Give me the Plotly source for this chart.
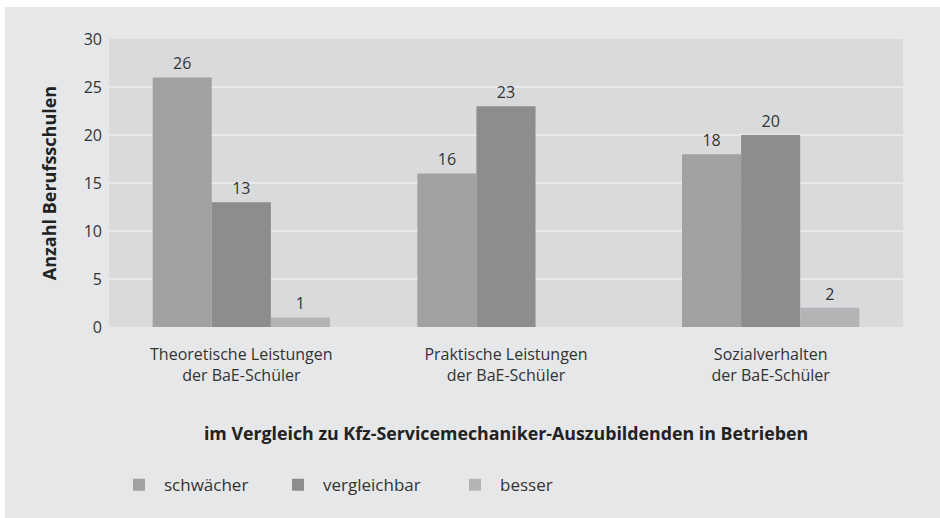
import plotly.graph_objects as go

categories = ["Theoretische Leistungen<br>der BaE-Schüler",
              "Praktische Leistungen<br>der BaE-Schüler",
              "Sozialverhalten<br>der BaE-Schüler"]
series_names = ["schwächer", "vergleichbar", "besser"]
schwaecher = [26, 16, 18]
vergleichbar = [13, 23, 20]
besser = [1, None, 2]
colors = ["#a0a1a3", "#8c8d8f", "#b3b4b6"]
y_ticks = [0, 5, 10, 15, 20, 25, 30]

FONT = "Open Sans"
TXT = "#333333"
W, H = 940, 518
ML, MR, MT, MB = 109, 37, 39, 191
PW, PH = W - ML - MR, H - MT - MB

legend_ids = ["legend", "legend2", "legend3"]
legend_x = [(114 - ML) / PW, (273 - ML) / PW, (450 - ML) / PW]

fig = go.Figure()
for name, vals, col, lid in zip(series_names, [schwaecher, vergleichbar, besser], colors, legend_ids):
    fig.add_trace(go.Bar(
        x=categories, y=vals, name=name, legend=lid,
        marker=dict(color=col, line=dict(width=0)),
        text=[("" if v is None else str(v)) for v in vals],
        textposition="outside", cliponaxis=False,
        textfont=dict(family=FONT, size=16, color=TXT),
    ))

def leg(x):
    return dict(orientation="h", x=x, xanchor="left", y=-0.487, yanchor="top",
                font=dict(family=FONT, size=17, color=TXT), bgcolor="rgba(0,0,0,0)",
                itemwidth=40)

fig.update_layout(
    width=W, height=H,
    barmode="group", bargap=0.33, bargroupgap=0,
    paper_bgcolor="#e6e7e9", plot_bgcolor="#d9dadc",
    margin=dict(l=ML, r=MR, t=MT, b=MB, autoexpand=False),
    font=dict(family=FONT, size=16, color=TXT),
    showlegend=True,
    legend=leg(legend_x[0]), legend2=leg(legend_x[1]), legend3=leg(legend_x[2]),
    shapes=[
        dict(type="rect", xref="paper", yref="paper", layer="above",
             x0=-ML / PW, x1=1 + MR / PW, y0=1 + (MT - 7) / PH, y1=1 + MT / PH,
             fillcolor="#ffffff", line=dict(width=0)),
        dict(type="rect", xref="paper", yref="paper", layer="above",
             x0=-ML / PW, x1=-(ML - 5) / PW, y0=-MB / PH, y1=1 + MT / PH,
             fillcolor="#ffffff", line=dict(width=0)),
    ],
)
fig.update_xaxes(showgrid=False, ticks="", showline=False, zeroline=False,
                 ticklabelstandoff=16,
                 tickfont=dict(family=FONT, size=16, color=TXT),
                 title=dict(text="<b>im Vergleich zu Kfz-Servicemechaniker-Auszubildenden in Betrieben</b>",
                            font=dict(family=FONT, size=17.8, color="#222222"), standoff=42))
fig.update_yaxes(range=[0, 30], tickvals=y_ticks, showgrid=True, gridcolor="#e8e9eb", gridwidth=2,
                 zeroline=False, showline=False, ticks="", ticklabelstandoff=6,
                 tickfont=dict(family=FONT, size=16, color=TXT),
                 title=dict(text="<b>Anzahl Berufsschulen</b>",
                            font=dict(family=FONT, size=18, color="#222222"), standoff=22))

fig.write_html("out.html", config={"displayModeBar": False},
               post_script="document.body.style.margin='0px';")
